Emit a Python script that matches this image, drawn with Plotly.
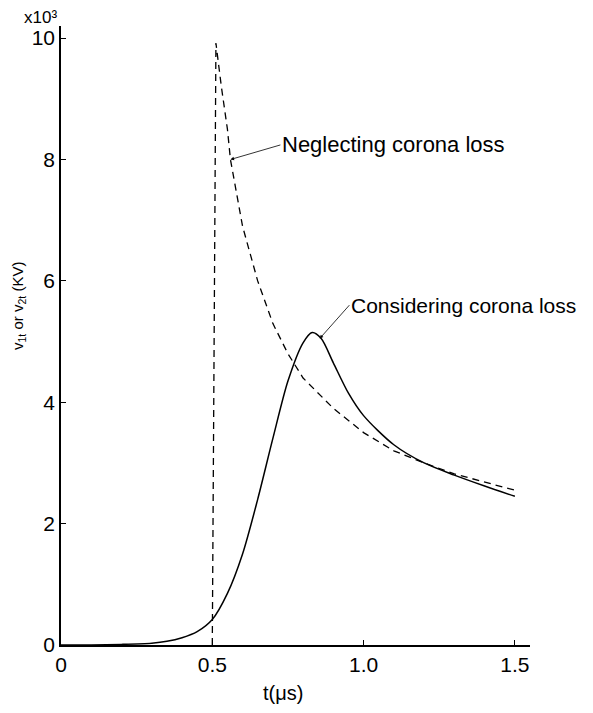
import plotly.graph_objects as go

# Data
t_solid = [0.0, 0.1, 0.2, 0.3, 0.35, 0.4, 0.45, 0.5, 0.55, 0.6, 0.65, 0.7, 0.75, 0.8, 0.83,
           0.86, 0.9, 0.95, 1.0, 1.1, 1.2, 1.3, 1.4, 1.5]
v_solid = [0.0, 0.0, 0.01, 0.03, 0.06, 0.12, 0.22, 0.42, 0.85, 1.5, 2.4, 3.4, 4.35, 4.98, 5.15,
           5.05, 4.65, 4.15, 3.78, 3.3, 3.0, 2.8, 2.62, 2.45]

t_dash = [0.5, 0.512, 0.53, 0.55, 0.56, 0.6, 0.65, 0.7, 0.75, 0.8, 0.9, 1.0, 1.1, 1.2, 1.3, 1.4, 1.5]
v_dash = [0.0, 9.92, 9.2, 8.5, 8.0, 6.9, 6.0, 5.3, 4.8, 4.4, 3.9, 3.5, 3.2, 3.0, 2.82, 2.68, 2.55]

x_ticks = [0, 0.5, 1.0, 1.5]
x_tick_labels = ["0", "0.5", "1.0", "1.5"]
y_ticks = [0, 2, 4, 6, 8, 10]
y_tick_labels = ["0", "2", "4", "6", "8", "10"]

FONT = "Liberation Sans"

# The page body adds an 8px offset; figure is sized to fill the rest of the window.
W, H = 585, 705
ML, MR, MT, MB = 53, 63, 18, 68
PW, PH = W - ML - MR, H - MT - MB


def paper(px, py):
    """convert a page pixel position of the reference into paper coordinates"""
    return (px - 8 - ML) / PW, (H - MB - (py - 8)) / PH


fig = go.Figure()
fig.add_trace(go.Scatter(x=t_dash, y=v_dash, mode="lines",
                         line=dict(color="black", width=1.3, dash="7px,5px"),
                         showlegend=False, hoverinfo="skip"))
fig.add_trace(go.Scatter(x=t_solid, y=v_solid, mode="lines",
                         line=dict(color="black", width=1.5, shape="spline", smoothing=0.8),
                         showlegend=False, hoverinfo="skip"))

fig.update_layout(
    width=W, height=H,
    margin=dict(l=ML, r=MR, t=MT, b=MB),
    paper_bgcolor="white", plot_bgcolor="white",
    font=dict(family=FONT, color="black"),
    xaxis=dict(range=[0, 1.55], showgrid=False, zeroline=False,
               showline=True, linecolor="black", linewidth=1.5,
               tickmode="array", tickvals=x_ticks, ticktext=x_tick_labels,
               ticks="inside", ticklen=5, tickcolor="black", tickwidth=1,
               tickfont=dict(size=21, family=FONT)),
    yaxis=dict(range=[0, 10.2], showgrid=False, zeroline=False,
               showline=True, linecolor="black", linewidth=1.5,
               tickmode="array", tickvals=y_ticks, ticktext=y_tick_labels,
               ticks="inside", ticklen=5, tickcolor="black", tickwidth=1,
               tickfont=dict(size=21, family=FONT)),
)

# y-axis title and multiplier
px_, py_ = paper(18, 306)
fig.add_annotation(x=px_, y=py_, xref="paper", yref="paper", showarrow=False,
                   xanchor="center", yanchor="middle",
                   text="v<sub>1t</sub> or v<sub>2t</sub> (KV)", textangle=-90,
                   font=dict(size=15, family=FONT))
px_, py_ = paper(40, 18)
fig.add_annotation(x=px_, y=py_, xref="paper", yref="paper", showarrow=False,
                   xanchor="center", yanchor="middle",
                   text="x10³", font=dict(size=17, family=FONT))
# x-axis title
px_, py_ = paper(283, 693)
fig.add_annotation(x=px_, y=py_, xref="paper", yref="paper", showarrow=False,
                   xanchor="center", yanchor="middle",
                   text="t(μs)", font=dict(size=20, family=FONT))

# Callouts (text box anchored at the arrow tail)
fig.add_annotation(x=0.56, y=8.0, ax=0.725, ay=8.24, xref="x", yref="y",
                   axref="x", ayref="y", text="Neglecting corona loss", showarrow=True,
                   xanchor="left", yanchor="middle",
                   arrowhead=2, arrowsize=0.9, arrowwidth=0.8, arrowcolor="black",
                   font=dict(size=22, family=FONT))
fig.add_annotation(x=0.855, y=5.05, ax=0.953, ay=5.6, xref="x", yref="y",
                   axref="x", ayref="y", text="Considering corona loss", showarrow=True,
                   xanchor="left", yanchor="middle",
                   arrowhead=2, arrowsize=0.9, arrowwidth=0.8, arrowcolor="black",
                   font=dict(size=21, family=FONT))

fig.write_html("out.html")
